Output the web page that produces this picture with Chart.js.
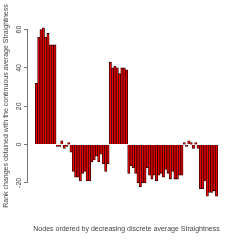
<!DOCTYPE html>
<html>
<head>
<meta charset="utf-8">
<script src="https://cdn.jsdelivr.net/npm/chart.js@4"></script>
<style>
  html, body { margin: 0; padding: 0; background: #fff; }
  #wrap { width: 240px; height: 240px; }
</style>
</head>
<body>
<div id="wrap"><canvas id="grafico" width="240" height="240"></canvas></div>
<script>
// rank changes per node
const rankChanges = [32, 56, 60, 61, 56, 58, 52, 52, 52, -1, -1, 2, -2, -1, 1, -4,
  -14, -17, -17, -19, -15, -14, -19, -19, -9, -8, -6, -9, -5, -10, -14, -10,
  43, 40, 41, 40, 37, 40, 40, 39,
  -15, -11, -12, -15, -20, -22, -20, -20, -12, -16, -18, -16, -19, -16, -15, -17,
  -13, -15, -18, -14, -18, -18, -16, -16,
  1, -1, 2, 1, -2, 1, -2,
  -23, -23, -19, -27, -25, -25, -24, -27];
const nodes = rankChanges.map((v, i) => i);
const yTicks = [-20, 0, 20, 40, 60];
const xTitle = 'Nodes ordered by decreasing discrete average Straightness';
const yTitle = 'Rank changes obtained with the continuous average Straightness';

const testo = '#444';

// R-style axis line (only between first and last tick) + y title
const assiR = {
  id: 'assiR',
  afterDraw(chart) {
    const c = chart.ctx;
    const y = chart.scales.y;
    const a = chart.chartArea;
    c.save();
    c.strokeStyle = '#777';
    c.lineWidth = 1;
    c.beginPath();
    c.moveTo(a.left - 0.5, y.getPixelForValue(yTicks[0]));
    c.lineTo(a.left - 0.5, y.getPixelForValue(yTicks[yTicks.length - 1]));
    c.stroke();
    c.fillStyle = testo;
    c.font = '7px "Liberation Sans", Arial, sans-serif';
    c.translate(6, 106);
    c.rotate(-Math.PI / 2);
    c.textAlign = 'center';
    c.textBaseline = 'middle';
    c.fillText(yTitle, 0, 0);
    c.restore();
  }
};

const ctx = document.getElementById('grafico').getContext('2d');
const grafico = new Chart(ctx, {
  type: 'bar',
  data: {
    datasets: [{
      data: nodes.map((n, i) => ({ x: n, y: rankChanges[i] })),
      backgroundColor: '#f00000',
      borderColor: '#2a0000',
      borderWidth: 0.8,
      barPercentage: 1,
      categoryPercentage: 1
    }]
  },
  options: {
    responsive: false,
    animation: false,
    layout: { padding: { left: 0, right: 15, top: 21, bottom: 0 } },
    plugins: { legend: { display: false }, tooltip: { enabled: false } },
    scales: {
      x: {
        type: 'linear',
        offset: false,
        min: -3.66,
        max: nodes.length - 1 + 3.66,
        grid: { display: false },
        border: { display: false },
        ticks: { display: false },
        title: {
          display: true,
          text: xTitle,
          color: testo,
          font: { family: '"Liberation Sans", Arial, sans-serif', size: 7 },
          padding: { top: 13.8, bottom: 6.8 }
        }
      },
      y: {
        min: -30.5,
        max: 64.5,
        afterBuildTicks: (scale) => { scale.ticks = yTicks.map(v => ({ value: v })); },
        afterFit: (scale) => { scale.width = 28; },
        border: { display: false },
        grid: { drawOnChartArea: false, drawTicks: true, tickLength: 4, color: '#777' },
        ticks: {
          minRotation: 90,
          maxRotation: 90,
          crossAlign: 'center',
          padding: 0,
          color: testo,
          font: { family: '"Liberation Sans", Arial, sans-serif', size: 7 }
        }
      }
    }
  },
  plugins: [assiR]
});
</script>
</body>
</html>
